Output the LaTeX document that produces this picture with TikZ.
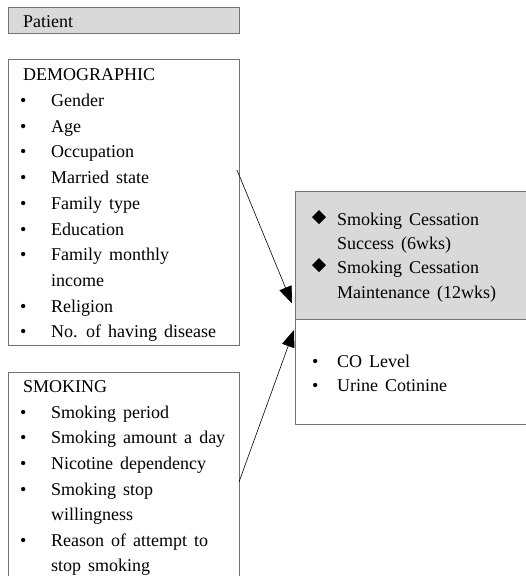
\documentclass[tikz,border=0pt]{standalone}
\usepackage{fontspec}
\setmainfont{Liberation Serif}
\usetikzlibrary{arrows.meta}
\newcommand\mybodyfont{\fontsize{18}{20}\selectfont\spaceskip 0.39em\relax}
\newcommand\mybulfont{\fontsize{18}{20}\selectfont}
\begin{document}
\begin{tikzpicture}[x=1pt,y=-1pt,
  box/.style={draw=black!55, line width=1pt, rectangle, inner sep=0, anchor=north west},
  shaded/.style={fill=black!15},
  txt/.style={anchor=base west, inner sep=0, font=\mybodyfont},
  bul/.style={anchor=base west, inner sep=0, font=\mybulfont},
  dmd/.style={fill=black},
  arr/.style={black, line width=0.6pt, -{Triangle[length=17pt,width=13pt]}}]
\useasboundingbox (0,0) rectangle (526,576);
\clip (0,0) rectangle (526,576);
% boxes
\node[box, shaded, minimum width=231pt, minimum height=26pt] (patient) at (8,7) {};
\node[box, minimum width=231pt, minimum height=286pt] (demo) at (8,59) {};
\node[box, minimum width=231pt, minimum height=230pt] (smok) at (8,372) {};
\node[box, shaded, minimum width=250pt, minimum height=128pt] (out) at (295,191) {};
\node[box, minimum width=250pt, minimum height=105pt] (meas) at (295,319) {};
% patient
\node[txt] (tp) at (23,27) {Patient};
% demographic
\node[txt] (td) at (23,80) {DEMOGRAPHIC};
\foreach \y/\t [count=\i] in {106/Gender,132/Age,157.5/Occupation,183/Married state,209/Family type,235/Education,260.5/Family monthly,312/Religion,337.5/No. of having disease}{
  \node[bul] (db\i) at (20,\y) {•};
  \node[txt] (dt\i) at (51,\y) {\t};
}
\node[txt] (dinc) at (51,286) {income};
% smoking
\node[txt] (ts) at (23,392) {SMOKING};
\foreach \y/\t [count=\i] in {418/Smoking period,443.5/Smoking amount a day,469/Nicotine dependency,495/Smoking stop,546/Reason of attempt to}{
  \node[bul] (sb\i) at (20,\y) {•};
  \node[txt] (st\i) at (51,\y) {\t};
}
\node[txt] (sw) at (51,520) {willingness};
\node[txt] (ss) at (51,571) {stop smoking};
% outcomes
\foreach \y/\n in {225/o1,273/o2}{
  \fill[dmd] (319,\y-15) -- (326,\y-8) -- (319,\y-1) -- (312,\y-8) -- cycle;
}
\node[txt] (ot1) at (337,225) {Smoking Cessation};
\node[txt] (ot2) at (337,249.5) {Success (6wks)};
\node[txt] (ot3) at (337,273) {Smoking Cessation};
\node[txt] (ot4) at (337,298) {Maintenance (12wks)};
% measures
\node[bul] (mb1) at (312,367) {•};
\node[txt] (mt1) at (337,367) {CO Level};
\node[bul] (mb2) at (312,391) {•};
\node[txt] (mt2) at (337,391) {Urine Cotinine};
% connectors
\coordinate (s1) at (237,170);
\coordinate (e1) at (292,303.5);
\coordinate (s2) at (239,482);
\coordinate (e2) at (294,330);
\draw[arr] (s1) -- (e1);
\draw[arr] (s2) -- (e2);
\end{tikzpicture}
\end{document}
